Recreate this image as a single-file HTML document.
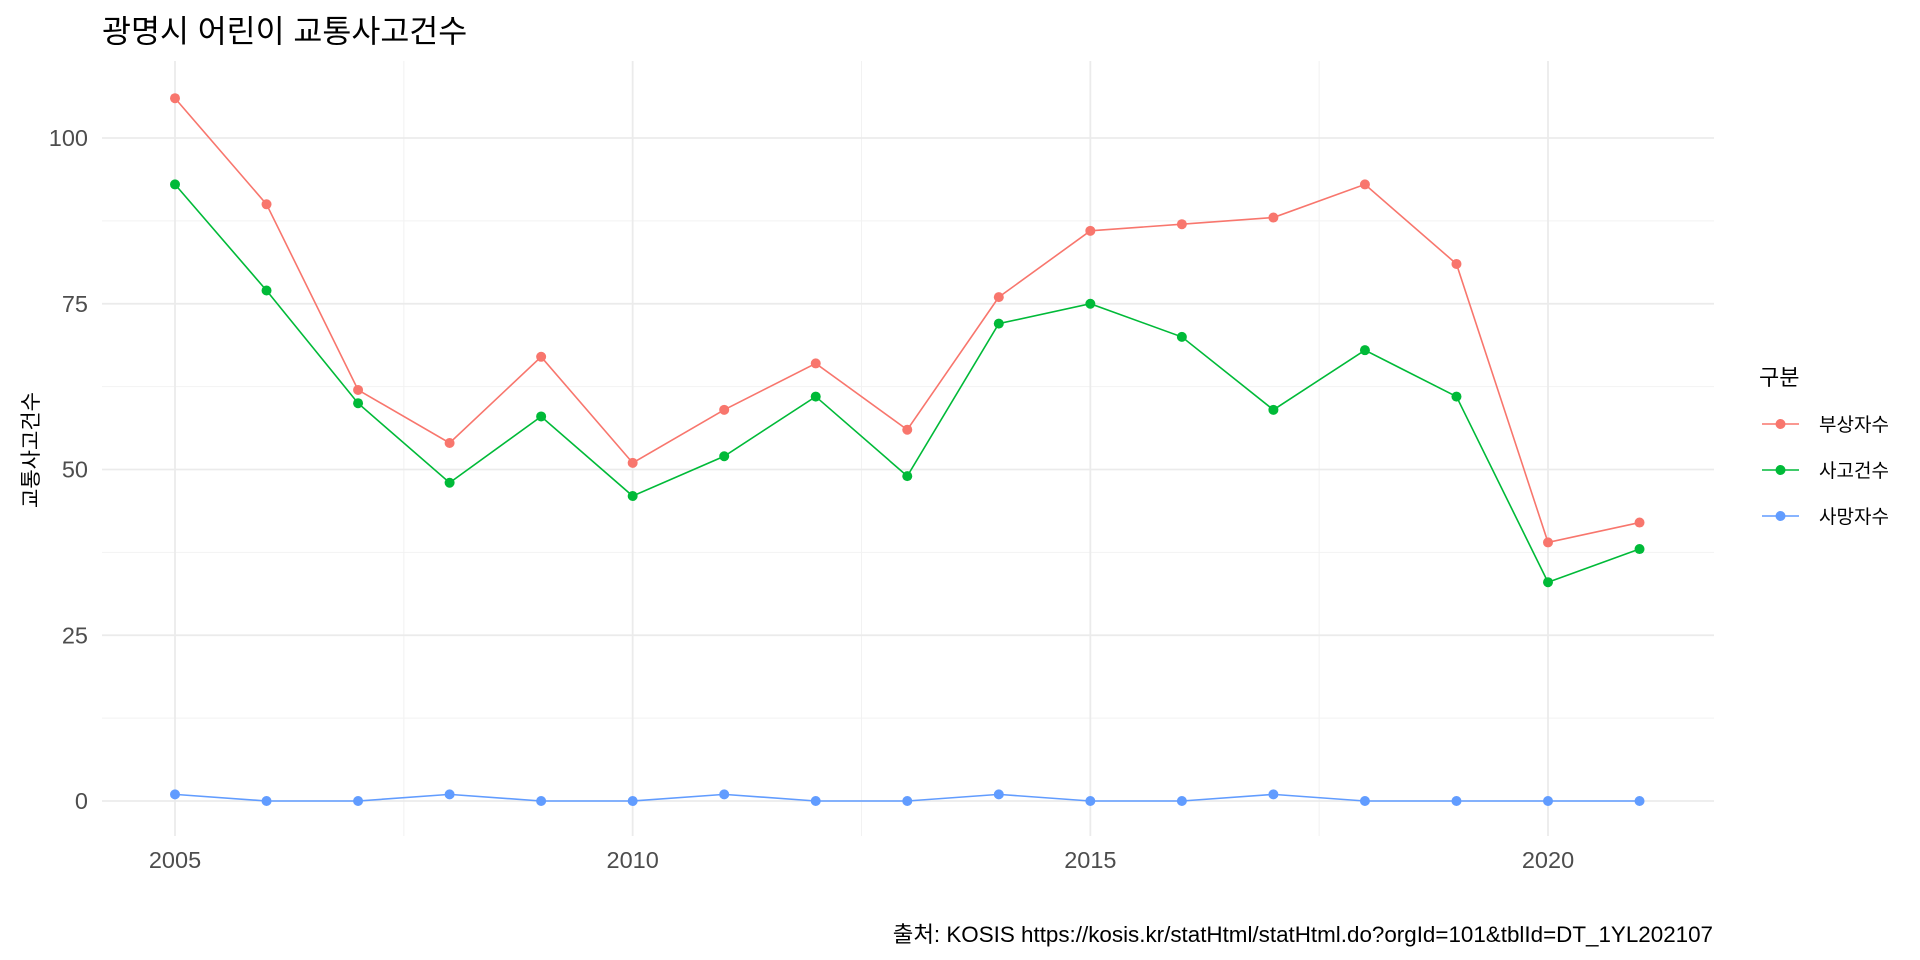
<!DOCTYPE html>
<html><head><meta charset="utf-8"><style>
body{margin:0;background:#fff;}
svg{display:block;font-family:"Liberation Sans","Noto Sans CJK KR",sans-serif;}
</style></head><body>
<svg id="chart" width="1920" height="960">
<text x="102" y="42" font-size="31.5" fill="#000">광명시 어린이 교통사고건수</text>
<g id="grid"></g>
<g id="series"></g>
<g id="axes"></g>
<text transform="translate(38,450) rotate(-90)" text-anchor="middle" font-size="21" fill="#000">교통사고건수</text>
<g id="legend">
<text x="1759" y="385" font-size="22" fill="#000">구분</text>
</g>
<text x="1713" y="942" text-anchor="end" font-size="22.4" fill="#000">출처: KOSIS https://kosis.kr/statHtml/statHtml.do?orgId=101&amp;tblId=DT_1YL202107</text>
</svg>
<script>
const years=[2005,2006,2007,2008,2009,2010,2011,2012,2013,2014,2015,2016,2017,2018,2019,2020,2021];
const injured=[106,90,62,54,67,51,59,66,56,76,86,87,88,93,81,39,42];
const accidents=[93,77,60,48,58,46,52,61,49,72,75,70,59,68,61,33,38];
const deaths=[1,0,0,1,0,0,1,0,0,1,0,0,1,0,0,0,0];
const seriesNames=["부상자수","사고건수","사망자수"];
const yTicks=[0,25,50,75,100];
const xTicks=[2005,2010,2015,2020];
const NS="http://www.w3.org/2000/svg";
const L=102,R=1714,T=61,B=836;
const x=v=>175+(v-2005)*(1548-175)/15;
const y=v=>801-v*(801-138)/100;
function mk(tag,attrs,parent){const e=document.createElementNS(NS,tag);for(const k in attrs)e.setAttribute(k,attrs[k]);parent.appendChild(e);return e;}
const grid=document.getElementById('grid'),axes=document.getElementById('axes'),ser=document.getElementById('series'),leg=document.getElementById('legend');
for(let i=0;i<yTicks.length-1;i++){const m=(yTicks[i]+yTicks[i+1])/2;const g=mk('line',{x1:L,x2:R,y1:y(m),y2:y(m),stroke:'#f2f2f2','stroke-width':1},grid);

}
for(let i=0;i<xTicks.length-1;i++){const m=(xTicks[i]+xTicks[i+1])/2;const g=mk('line',{x1:x(m),x2:x(m),y1:T,y2:B,stroke:'#f2f2f2','stroke-width':1},grid);

}
yTicks.forEach(t=>{const g=mk('line',{x1:L,x2:R,y1:y(t),y2:y(t),stroke:'#ebebeb','stroke-width':1.8},grid);


const tx=mk('text',{x:88,y:y(t)+8,'text-anchor':'end','font-size':23.5,fill:'#4d4d4d'},axes);tx.textContent=t;

});
xTicks.forEach(t=>{const g=mk('line',{x1:x(t),x2:x(t),y1:T,y2:B,stroke:'#ebebeb','stroke-width':1.8},grid);


const tx=mk('text',{x:x(t),y:868,'text-anchor':'middle','font-size':23.5,fill:'#4d4d4d'},axes);tx.textContent=t;

});
const data=[injured,accidents,deaths],colors=['#F8766D','#00BA38','#619CFF'],slugs=['injured','accidents','deaths'];
data.forEach((d,si)=>{
const p=mk('polyline',{points:d.map((v,i)=>x(years[i])+','+y(v)).join(' '),fill:'none',stroke:colors[si],'stroke-width':1.6},ser);


d.forEach((v,i)=>{const c=mk('circle',{cx:x(years[i]),cy:y(v),r:5,fill:colors[si]},ser);

});
const ly=424+si*46;
const ln=mk('line',{x1:1762,x2:1799,y1:ly,y2:ly,stroke:colors[si],'stroke-width':1.6},leg);


const lc=mk('circle',{cx:1780.5,cy:ly,r:5,fill:colors[si]},leg);


const lt=mk('text',{x:1819,y:ly+7,'font-size':19,fill:'#000'},leg);lt.textContent=seriesNames[si];


});
</script>
</body></html>
